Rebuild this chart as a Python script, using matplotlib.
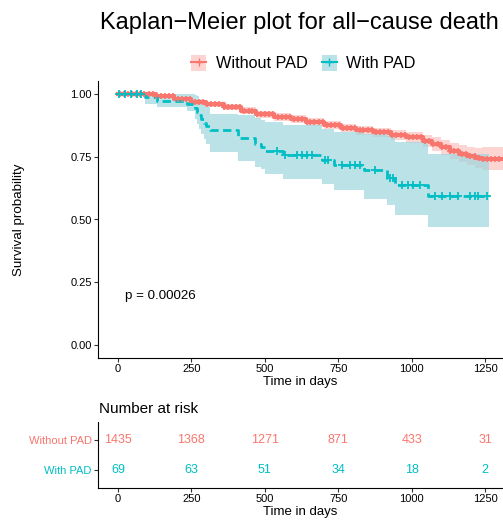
import numpy as np
import matplotlib
matplotlib.use('Agg')
import matplotlib.pyplot as plt
from matplotlib.patches import Patch
from matplotlib.lines import Line2D
from matplotlib.legend_handler import HandlerTuple

plt.rcParams['font.family'] = ['Liberation Sans', 'DejaVu Sans']

red = '#F8766D'
teal = '#00BFC4'
teal_band = '#9fd6dd'

# Without PAD: step times, survival, confidence band
t_no = [0, 90, 130, 190, 250, 300, 360, 420, 470, 530, 590, 640, 700, 760, 810,
        870, 930, 980, 1040, 1070, 1100, 1130, 1160, 1190, 1215, 1240]
s_no = [1.0, 0.997, 0.99, 0.978, 0.966, 0.957, 0.945, 0.932, 0.918, 0.908, 0.898,
        0.888, 0.876, 0.864, 0.855, 0.846, 0.836, 0.826, 0.812, 0.80, 0.787, 0.772,
        0.762, 0.753, 0.746, 0.742]
up_no = [1.0, 1.0, 0.995, 0.986, 0.976, 0.968, 0.957, 0.945, 0.932, 0.922, 0.913,
         0.903, 0.892, 0.881, 0.873, 0.865, 0.856, 0.848, 0.836, 0.826, 0.815, 0.802,
         0.794, 0.787, 0.785, 0.787]
lo_no = [1.0, 0.993, 0.984, 0.970, 0.956, 0.946, 0.933, 0.919, 0.904, 0.893, 0.882,
         0.872, 0.859, 0.846, 0.836, 0.826, 0.815, 0.803, 0.787, 0.773, 0.758, 0.741,
         0.729, 0.717, 0.705, 0.697]
end_no = 1311
cens_no = [8, 22, 35, 47, 60, 74, 88, 104, 118, 131, 146, 160, 173, 189, 204, 217,
           231, 246, 262, 275, 289, 303, 318, 331, 344, 360, 373, 387, 402, 416, 430,
           445, 458, 472, 487, 501, 515, 528, 544, 557, 571, 586, 600, 613, 627, 642,
           655, 669, 684, 697, 711, 726, 740, 753, 767, 781, 795, 808, 823, 836, 850,
           865, 878, 892, 906, 920, 934, 948, 962, 976, 990, 1004, 1018, 1032, 1046,
           1060, 1074, 1088, 1102, 1116, 1130, 1144, 1158, 1172, 1186, 1200, 1214,
           1228, 1242, 1256, 1270, 1284, 1298]

# With PAD
t_pad = [0, 93, 134, 234, 263, 270, 277, 284, 292, 300, 313, 409, 465, 488, 500,
         563, 695, 735, 838, 915, 943, 1057]
s_pad = [1.0, 0.986, 0.971, 0.957, 0.942, 0.928, 0.913, 0.899, 0.884, 0.870, 0.855,
         0.822, 0.80, 0.787, 0.771, 0.757, 0.737, 0.718, 0.695, 0.666, 0.638, 0.594]
up_pad = [1.0, 1.0, 1.0, 1.0, 0.995, 0.99, 0.98, 0.97, 0.955, 0.945, 0.92, 0.915,
          0.905, 0.895, 0.886, 0.877, 0.86, 0.846, 0.84, 0.83, 0.807, 0.762]
lo_pad = [1.0, 0.96, 0.948, 0.93, 0.90, 0.88, 0.86, 0.84, 0.82, 0.80, 0.767, 0.734,
          0.708, 0.70, 0.682, 0.662, 0.642, 0.616, 0.583, 0.557, 0.517, 0.471]
end_pad = 1262
cens_pad = [5, 25, 45, 65, 80, 543, 569, 609, 625, 642, 659, 705, 716, 762, 790, 807,
            824, 875, 925, 935, 966, 989, 1006, 1028, 1080, 1102, 1131, 1159, 1199,
            1216, 1227, 1256]

risk_times = [0, 250, 500, 750, 1000, 1250]
risk_no = [1435, 1368, 1271, 871, 433, 31]
risk_pad = [69, 63, 51, 34, 18, 2]
p_text = 'p = 0.00026'

W, H = 503, 522
fig = plt.figure(figsize=(W / 100, H / 100), dpi=100)
ax = fig.add_axes([98 / W, 1 - 358 / H, (W - 98) / W, (358 - 81) / H])
ax2 = fig.add_axes([98 / W, 1 - 488 / H, (W - 98) / W, (488 - 422) / H])


def band(t, s, up, lo, end, col, alpha):
    tt = np.array(t + [end])
    ss = np.array(s + [s[-1]])
    uu = np.array(up + [up[-1]])
    ll = np.array(lo + [lo[-1]])
    ax.fill_between(tt, ll, uu, step='post', color=col, alpha=alpha, lw=0)
    return tt, ss


tn, sn = band(t_no, s_no, up_no, lo_no, end_no, red, 0.3)
tp, sp = band(t_pad, s_pad, up_pad, lo_pad, end_pad, teal_band, 0.7)

ax.step(tn, sn, where='post', color=red, lw=3)
ax.step(tp, sp, where='post', color=teal, lw=2, linestyle=(0, (3, 1.6)))

cn = np.array(cens_no)
ax.plot(cn, sn[np.searchsorted(tn, cn, side='right') - 1], '+', color=red, ms=5, mew=1.2)
cp = np.array(cens_pad)
ax.plot(cp, sp[np.searchsorted(tp, cp, side='right') - 1], '+', color=teal, ms=5.5, mew=1.3)

ax.text(24, 0.195, p_text, fontsize=9.6, ha='left', va='center')

for a in (ax, ax2):
    a.set_xlim(-68, 1311)
    a.set_xticks(risk_times)
    a.spines['top'].set_visible(False)
    a.spines['right'].set_visible(False)
    a.spines['left'].set_linewidth(0.8)
    a.spines['bottom'].set_linewidth(0.8)
    a.tick_params(length=3, width=0.8, pad=1.5, labelsize=8, colors='#333333', labelcolor='black')
    a.set_xlabel('Time in days', fontsize=9.5, labelpad=1)

ax.set_ylim(-0.05, 1.05)
ax.set_yticks([0, 0.25, 0.5, 0.75, 1.0])
ax.set_yticklabels(['0.00', '0.25', '0.50', '0.75', '1.00'])
fig.text(19 / W, 1 - 220 / H, 'Survival probability', rotation=90, fontsize=9.6,
         ha='center', va='center')

ax2.set_ylim(0.4, 2.6)
ax2.set_yticks([1, 2])
ax2.set_yticklabels(['With PAD', 'Without PAD'])
ax2.get_yticklabels()[0].set_color(teal)
ax2.get_yticklabels()[1].set_color(red)
for x, a_, b_ in zip(risk_times, risk_no, risk_pad):
    ax2.text(x, 2, str(a_), color=red, fontsize=9, ha='center', va='center')
    ax2.text(x, 1, str(b_), color=teal, fontsize=9, ha='center', va='center')

fig.text(99 / W, 1 - 413 / H, 'Number at risk', fontsize=11, va='baseline', ha='left')
fig.text(299.5 / W, 1 - 29 / H, 'Kaplan\u2212Meier plot for all\u2212cause death',
         fontsize=17, ha='center', va='baseline')

handles = [(Patch(facecolor=red, alpha=0.3, lw=0),
            Line2D([], [], color=red, lw=1.5, marker='+', ms=6)),
           (Patch(facecolor=teal_band, alpha=0.7, lw=0),
            Line2D([], [], color=teal, lw=1.5, marker='+', ms=6))]
fig.legend(handles, ['Without PAD', 'With PAD'], loc='center',
           bbox_to_anchor=(303.5 / W, 1 - 63 / H), ncol=2, frameon=False,
           fontsize=11.7, handlelength=0.9, handleheight=1.2, columnspacing=0.9,
           handletextpad=0.6, handler_map={tuple: HandlerTuple(ndivide=1, pad=0)})

fig.savefig('out.png', dpi=100)
